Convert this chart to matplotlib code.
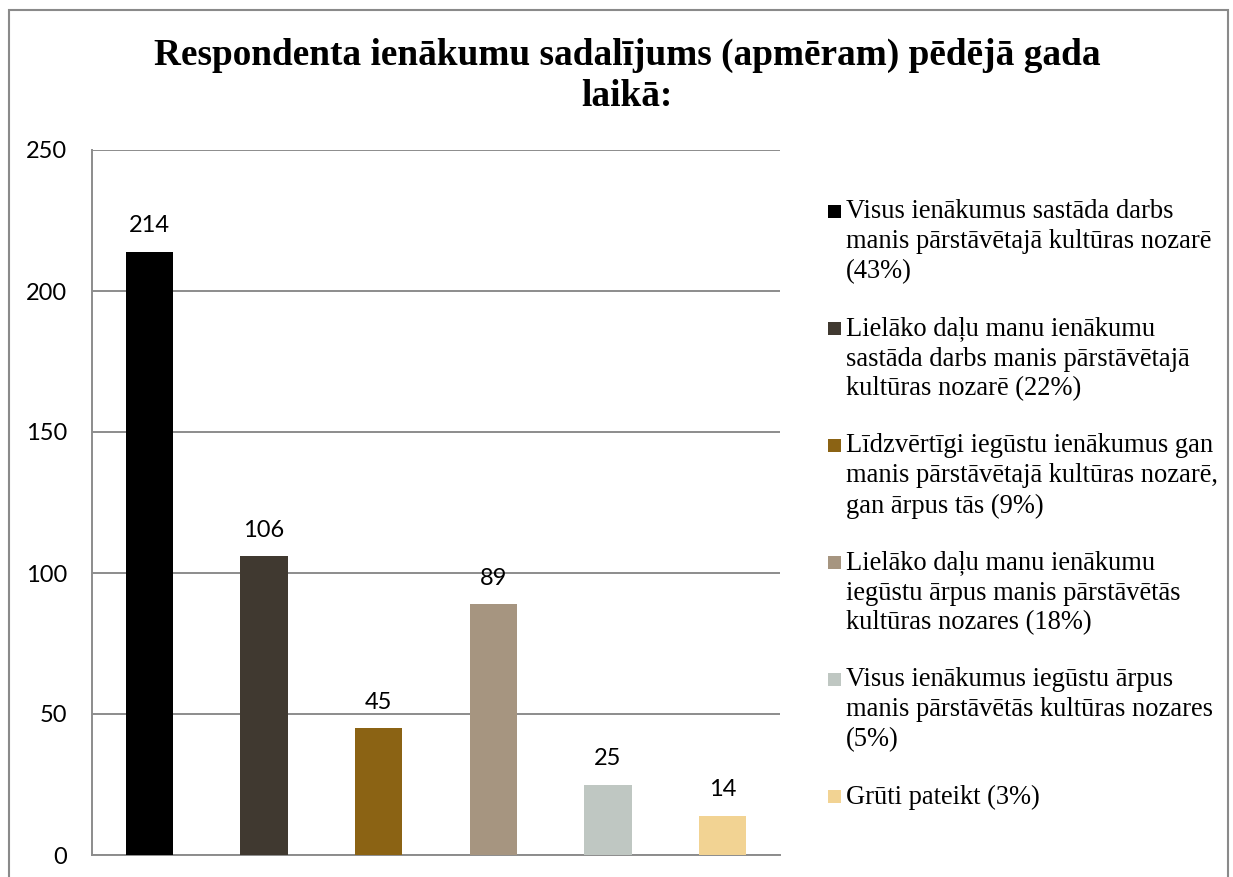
import matplotlib.pyplot as plt
from matplotlib.patches import Rectangle

# Data
categories = [
    'Visus ienākumus sastāda darbs\nmanis pārstāvētajā kultūras nozarē\n(43%)',
    'Lielāko daļu manu ienākumu\nsastāda darbs manis pārstāvētajā\nkultūras nozarē (22%)',
    'Līdzvērtīgi iegūstu ienākumus gan\nmanis pārstāvētajā kultūras nozarē,\ngan ārpus tās (9%)',
    'Lielāko daļu manu ienākumu\niegūstu ārpus manis pārstāvētās\nkultūras nozares (18%)',
    'Visus ienākumus iegūstu ārpus\nmanis pārstāvētās kultūras nozares\n(5%)',
    'Grūti pateikt (3%)',
]
counts = [214, 106, 45, 89, 25, 14]
colors = ['#000000', '#403930', '#8B6314', '#A69580', '#BFC7C2', '#F2D393']
yticks = [0, 50, 100, 150, 200, 250]

W, H = 1233, 877
fig = plt.figure(figsize=(W / 100, H / 100), dpi=100)

def fx(px):
    return px / W

def fy(py):
    return 1 - py / H

# outer chart border (bottom edge runs off the picture)
fig.patches.append(Rectangle((fx(9), -0.05), fx(1219), fy(10) + 0.05,
                             transform=fig.transFigure, fill=False,
                             edgecolor='#8a8a8a', linewidth=1.5))

ax = fig.add_axes([fx(92), fy(855), fx(688), 705 / H])
x = range(len(counts))
bars = ax.bar(x, counts, width=0.41, color=colors, zorder=3)

ax.set_xlim(-0.5, len(counts) - 0.5)
ax.set_ylim(0, 250)
ax.set_yticks(yticks)
ax.set_xticks([])
ax.tick_params(axis='y', length=0, pad=18, labelsize=17)
for lbl in ax.get_yticklabels():
    lbl.set_fontfamily('Lato')

ax.grid(axis='y', color='#8c8c8c', linewidth=1.4, zorder=0)
for side in ['top', 'right']:
    ax.spines[side].set_visible(False)
for side in ['left', 'bottom']:
    ax.spines[side].set_color('#8c8c8c')
    ax.spines[side].set_linewidth(1.4)

# values above bars
for bar in bars:
    h = bar.get_height()
    ax.annotate(f'{h}', xy=(bar.get_x() + bar.get_width() / 2, h),
                xytext=(0, 13.7), textcoords='offset points',
                ha='center', va='baseline', fontsize=17, family='Lato')

# title
fig.text(fx(627), fy(55), 'Respondenta ienākumu sadalījums (apmēram) pēdējā gada',
         ha='center', va='center', fontsize=26.8, fontweight='bold',
         family='Liberation Serif')
fig.text(fx(627), fy(97), 'laikā:', ha='center', va='center', fontsize=26.8,
         fontweight='bold', family='Liberation Serif')

# legend, drawn line by line so the square sits next to the first line
line_h = 30
gap = 27
y = 212
for label, c in zip(categories, colors):
    fig.patches.append(Rectangle((fx(828), fy(y + 6)), fx(13), 13 / H,
                                 transform=fig.transFigure, facecolor=c,
                                 edgecolor='none'))
    lines = label.split('\n')
    for i, line in enumerate(lines):
        fig.text(fx(846), fy(y + i * line_h), line, ha='left', va='center',
                 fontsize=19.1, family='Liberation Serif')
    y += len(lines) * line_h + gap

fig.savefig('out.png', dpi=100)
